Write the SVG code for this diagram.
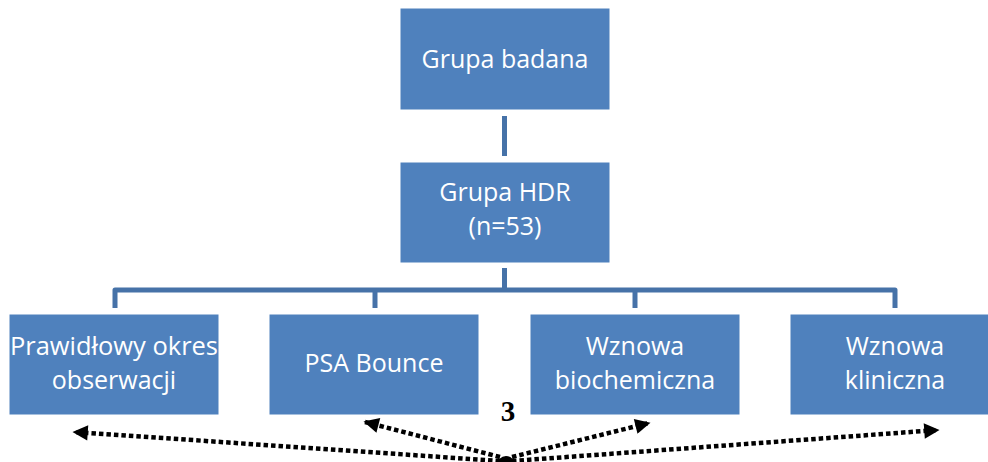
<svg xmlns="http://www.w3.org/2000/svg" width="988" height="462" viewBox="0 0 988 462">
<style>
.box{fill:#4F81BD;stroke:#ffffff;stroke-width:1}
.t{font-family:"Open Sans","Liberation Sans",sans-serif;font-size:25px;fill:#ffffff;text-anchor:middle}
.conn{fill:none;stroke:#4672A8;stroke-width:5;stroke-linejoin:round;stroke-linecap:butt}
.dot{fill:none;stroke:#000;stroke-width:4.5;stroke-dasharray:4.5 3}
</style>
<defs>
<marker id="ah" viewBox="0 0 10 10" refX="9" refY="5" markerWidth="3.6" markerHeight="3.4" markerUnits="strokeWidth" orient="auto">
<path d="M0,0 L10,5 L0,10 Z" fill="#000"/>
</marker>
</defs>
<rect width="988" height="462" fill="#ffffff"/>
<g id="connectors">
<line class="conn" x1="504.5" y1="116" x2="504.5" y2="156"/>
<line class="conn" x1="504.5" y1="268" x2="504.5" y2="290"/>
<path class="conn" d="M115,308 V290 H895 V308"/>
<line class="conn" x1="375" y1="290" x2="375" y2="308"/>
<line class="conn" x1="635" y1="290" x2="635" y2="308"/>
</g>
<g id="n-grupa-badana"><rect class="box" x="400" y="8" width="210" height="102"/><text class="t" x="505" y="68">Grupa badana</text></g>
<g id="n-grupa-hdr"><rect class="box" x="400" y="162" width="210" height="101"/><text class="t" x="505" y="201">Grupa HDR</text><text class="t" x="505" y="235">(n=53)</text></g>
<g id="n-prawidlowy"><rect class="box" x="9" y="314" width="210" height="101"/><text class="t" x="114" y="355" textLength="208" lengthAdjust="spacingAndGlyphs">Prawidłowy okres</text><text class="t" x="114" y="389">obserwacji</text></g>
<g id="n-psa"><rect class="box" x="269" y="314" width="210" height="101"/><text class="t" x="374" y="372">PSA Bounce</text></g>
<g id="n-wznowa-bio"><rect class="box" x="530" y="314" width="210" height="101"/><text class="t" x="635" y="355">Wznowa</text><text class="t" x="635" y="389">biochemiczna</text></g>
<g id="n-wznowa-klin"><rect class="box" x="790" y="314" width="210" height="101"/><text class="t" x="895" y="355">Wznowa</text><text class="t" x="895" y="389">kliniczna</text></g>
<g id="arrows">
<line class="dot" x1="500" y1="461" x2="74" y2="432" marker-end="url(#ah)"/>
<line class="dot" x1="500" y1="457" x2="365" y2="422" marker-end="url(#ah)"/>
<line class="dot" x1="512" y1="457" x2="649" y2="423" marker-end="url(#ah)"/>
<line class="dot" x1="512" y1="461" x2="938" y2="430" marker-end="url(#ah)"/>
<circle cx="506" cy="465" r="9" fill="#000"/>
</g>
<text x="508" y="421" font-family="Liberation Serif,serif" font-weight="bold" font-size="29" text-anchor="middle" fill="#000">3</text>
</svg>
